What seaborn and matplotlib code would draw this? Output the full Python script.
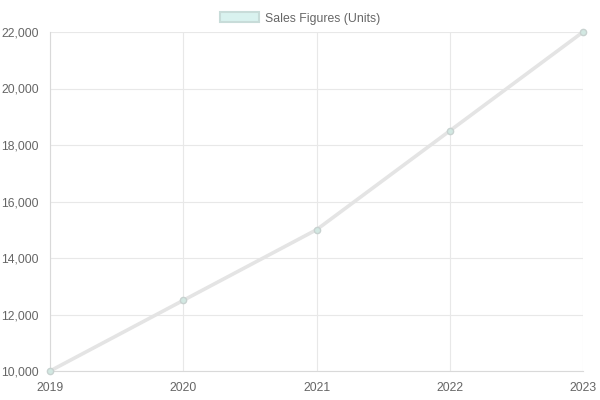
import pandas as pd
import matplotlib.pyplot as plt
import seaborn as sns
from matplotlib.patches import Patch
from matplotlib.ticker import FuncFormatter

years = [2019, 2020, 2021, 2022, 2023]
sales = [10000, 12500, 15000, 18500, 22000]
series_label = "Sales Figures (Units)"

df = pd.DataFrame({"year": years, "sales": sales})

sns.set_theme(style="white")
plt.rcParams["font.family"] = ["Liberation Sans", "DejaVu Sans"]

fig = plt.figure(figsize=(6, 4), dpi=100)
ax = fig.add_axes([50 / 600, 29 / 400, 533 / 600, 339 / 400])

sns.lineplot(data=df, x="year", y="sales", ax=ax, color="#e4e4e4", linewidth=2.6,
             marker="o", markersize=4.5, markerfacecolor="#d2e8e2",
             markeredgecolor="#c8d2d0", markeredgewidth=1, clip_on=False, zorder=3)

ax.set_xlim(2019, 2023)
ax.set_ylim(10000, 22000)
ax.set_xticks(years)
ax.set_yticks(range(10000, 22001, 2000))
ax.yaxis.set_major_formatter(FuncFormatter(lambda v, p: f"{int(v):,}"))
ax.set_xlabel("")
ax.set_ylabel("")

ax.grid(True, color="#e8e8e8", linewidth=0.8)
for side in ["top", "right"]:
    ax.spines[side].set_visible(False)
for side in ["left", "bottom"]:
    ax.spines[side].set_color("#d9d9d9")
    ax.spines[side].set_linewidth(0.8)
ax.tick_params(axis="both", colors="#e6e6e6", labelcolor="#666666",
               labelsize=8.8, length=6, width=0.8, pad=2)

handle = Patch(facecolor="#d9f2ef", edgecolor="#c8dcd9", linewidth=1.5)
fig.legend([handle], [series_label], loc="upper center", bbox_to_anchor=(0.5, 1.0),
           frameon=False, fontsize=8.8, handlelength=3.2, handleheight=0.9,
           labelcolor="#666666", borderpad=0.5, handletextpad=0.5)

fig.savefig("out.png", dpi=100)
